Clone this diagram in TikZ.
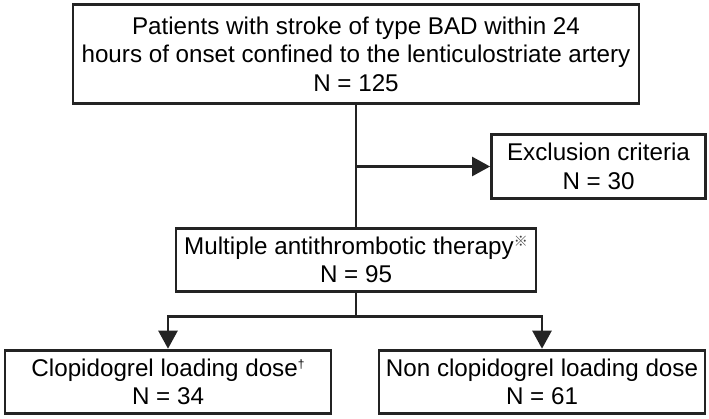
\documentclass[tikz,border=0pt]{standalone}
\usepackage{fontspec}
\setmainfont{Liberation Sans}
\newfontfamily\cjkfont{Noto Sans CJK JP}
\usepackage{tikz}
\usetikzlibrary{arrows.meta, positioning, calc}
\definecolor{lineblack}{RGB}{35, 35, 35}
\newcommand{\refmark}{\raisebox{0.6ex}{\fontsize{14}{14}\selectfont\cjkfont\color{black!75}※}}
\newcommand{\dagmark}{\raisebox{0.6ex}{\fontsize{12}{12}\selectfont †}}
\tikzstyle{box} = [rectangle, draw=lineblack, line width=2.8pt, inner sep=0pt, align=center, text=black, font=\fontsize{24.2}{28.5}\selectfont]
\tikzstyle{bigbox} = [box, minimum width=566pt, minimum height=99pt]
\tikzstyle{midbox} = [box, minimum width=360pt, minimum height=63pt]
\tikzstyle{sidebox} = [box, minimum width=214pt, minimum height=64pt]
\tikzstyle{outbox} = [box, minimum width=326pt, minimum height=63pt]
\tikzstyle{line} = [draw=lineblack, line width=2.5pt]
\tikzstyle{arrow} = [line, -{Triangle[length=18pt,width=19pt]}]

\begin{document}
\begin{tikzpicture}[x=1pt, y=-1pt]
\useasboundingbox (0,0) rectangle (709,418);

% Enrolment
\node (patients) [bigbox] at (356,54) {Patients with stroke of type BAD within 24\\hours of onset confined to the lenticulostriate artery\\N = 125};
\node (exclusion) [sidebox] at (598.5,166.5) {Exclusion criteria\\N = 30};
\node (therapy) [midbox, below=122pt of patients] {Multiple antithrombotic therapy\refmark\\N = 95};

% Groups
\node (clopi) [outbox, below=56pt of therapy, xshift=-188pt] {Clopidogrel loading dose\dagmark\\N = 34};
\node (nonclopi) [outbox, below=56pt of therapy, xshift=186pt] {Non clopidogrel loading dose\\N = 61};

% Arrows
\coordinate (split) at (patients.south |- exclusion.west);
\coordinate (branch) at ($(therapy.south)+(0,24)$);
\draw [line] (patients.south) -- (therapy.north);
\draw [arrow] (split) -- (exclusion.west);
\draw [line] (therapy.south) -- (branch);
\draw [arrow] (branch) -| (clopi.north);
\draw [arrow] (branch) -| (nonclopi.north);

\end{tikzpicture}
\end{document}
